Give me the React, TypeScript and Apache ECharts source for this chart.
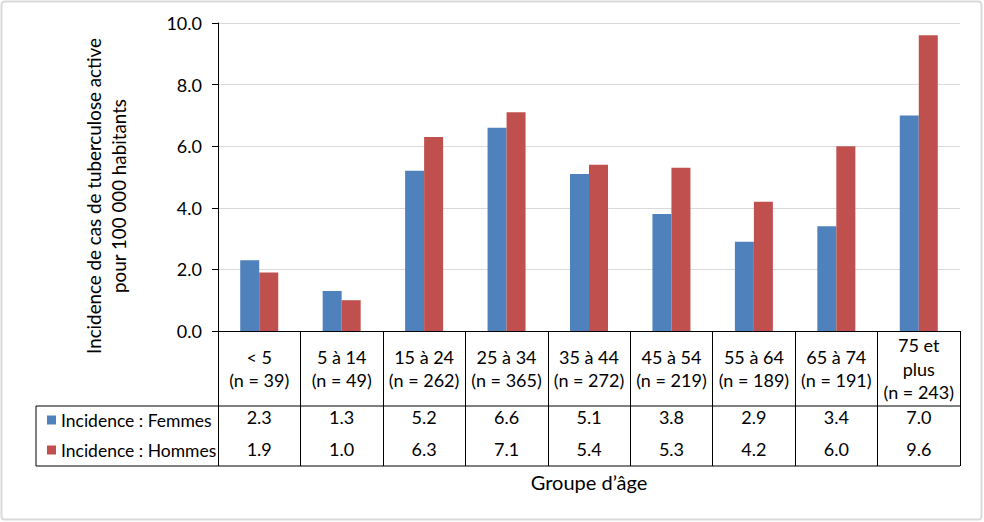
import React, { useEffect, useRef } from "react";
import * as echarts from "echarts";

const ageGroups = ["< 5", "5 à 14", "15 à 24", "25 à 34", "35 à 44", "45 à 54", "55 à 64", "65 à 74", "75 et\nplus"];
const counts = [39, 49, 262, 365, 272, 219, 189, 191, 243];
const femmes = [2.3, 1.3, 5.2, 6.6, 5.1, 3.8, 2.9, 3.4, 7.0];
const hommes = [1.9, 1.0, 6.3, 7.1, 5.4, 5.3, 4.2, 6.0, 9.6];
const seriesNames = ["Incidence : Femmes", "Incidence : Hommes"];
const yTitle = "Incidence de cas de tuberculose active\npour 100 000 habitants";
const xTitle = "Groupe d’âge";

const FONT = "Lato";
const W = 984;
const H = 522;
const L = 218;
const R = 960;
const T = 23;
const B = 331;

export default function App() {
  const ref = useRef<HTMLDivElement>(null);
  useEffect(() => {
    document.body.style.margin = "0";
    const chart = echarts.init(ref.current!, null, { renderer: "svg" });
    const catLabels = ageGroups.map((g, i) => `${g}\n(n = ${counts[i]})`);
    const txt = { color: "#000", fontFamily: FONT, fontSize: 18 };
    const valueAxis = (vals: number[], margin: number) => ({
      type: "category",
      gridIndex: 0,
      position: "bottom",
      data: vals.map((v) => v.toFixed(1)),
      axisLine: { show: false },
      axisTick: { show: false },
      axisLabel: { ...txt, margin, verticalAlign: "middle", interval: 0 },
    });
    chart.setOption({
      animation: false,
      backgroundColor: "#fff",
      textStyle: { fontFamily: FONT },
      grid: {
        left: L,
        right: W - R,
        top: T,
        bottom: H - B,
        containLabel: false,
        outerBoundsMode: "none",
      },
      legend: {
        data: seriesNames,
        orient: "vertical",
        left: 42,
        top: 405,
        icon: "rect",
        itemWidth: 9,
        itemHeight: 9,
        itemGap: 10,
        selectedMode: false,
        textStyle: { ...txt, fontSize: 17.5, lineHeight: 20 },
      },
      xAxis: [
        {
          type: "category",
          data: catLabels,
          name: xTitle,
          nameLocation: "middle",
          nameGap: 141,
          nameTextStyle: { ...txt, fontSize: 20 },
          axisLine: { show: true, lineStyle: { color: "#000", width: 1 } },
          axisTick: { show: true, length: 135, alignWithLabel: false, lineStyle: { color: "#000", width: 1 } },
          axisLabel: { ...txt, margin: 37.5, verticalAlign: "middle", lineHeight: 23.5, interval: 0 },
        },
        valueAxis(femmes, 86),
        valueAxis(hommes, 118),
      ],
      yAxis: {
        type: "value",
        min: 0,
        max: 10,
        interval: 2,
        name: yTitle,
        nameLocation: "middle",
        nameGap: 87,
        nameTextStyle: { ...txt, fontSize: 18.8, lineHeight: 25, padding: [0, 38, 0, 0] },
        axisLine: { show: true, lineStyle: { color: "#000", width: 1 } },
        axisTick: { show: true, length: 6, lineStyle: { color: "#000" } },
        axisLabel: { ...txt, margin: 16, formatter: (v: number) => v.toFixed(1) },
        splitLine: { show: true, lineStyle: { color: "#d9d9d9", width: 1 } },
      },
      series: [
        {
          name: seriesNames[0],
          type: "bar",
          data: femmes,
          barWidth: 19,
          barGap: "0%",
          itemStyle: { color: "#4F81BD" },
        },
        {
          name: seriesNames[1],
          type: "bar",
          data: hommes,
          barWidth: 19,
          barGap: "0%",
          itemStyle: { color: "#C0504D" },
        },
      ],
      graphic: [
        {
          type: "rect",
          shape: { x: 1.5, y: 1.5, width: W - 4, height: H - 4, r: 3 },
          style: { fill: "none", stroke: "#d9d9d9", lineWidth: 2 },
          silent: true,
        },
        { type: "line", shape: { x1: 36, y1: 406, x2: R, y2: 406 }, style: { stroke: "#000", lineWidth: 1 } },
        { type: "line", shape: { x1: 36, y1: 466, x2: R, y2: 466 }, style: { stroke: "#000", lineWidth: 1 } },
        { type: "line", shape: { x1: 36, y1: 406, x2: 36, y2: 466 }, style: { stroke: "#000", lineWidth: 1 } },
      ],
    });
    return () => chart.dispose();
  }, []);
  return <div ref={ref} style={{ width: W, height: H }} />;
}
